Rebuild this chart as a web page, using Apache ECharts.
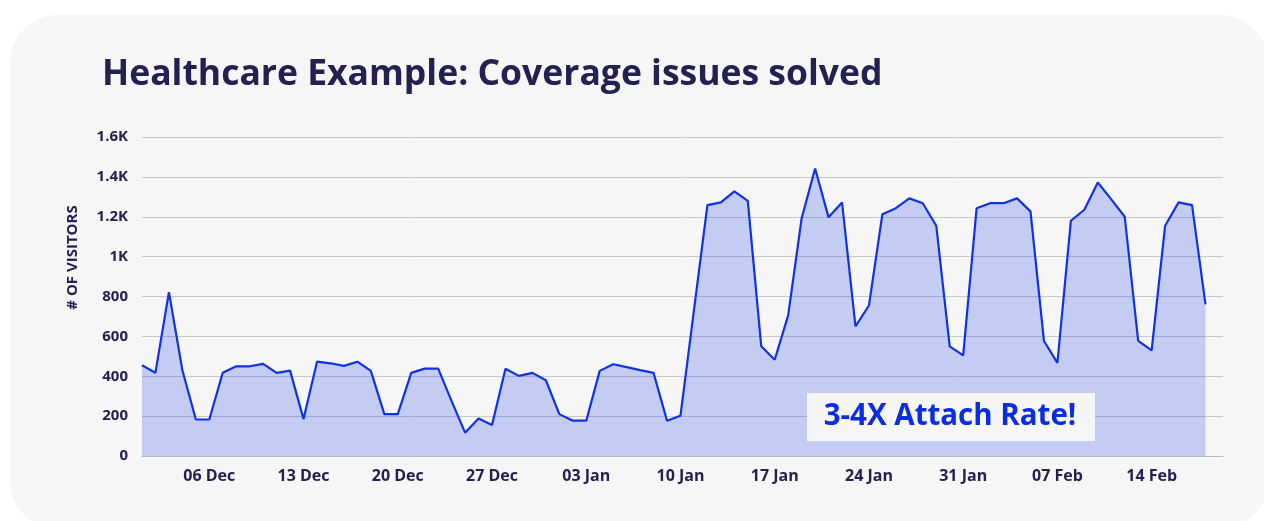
<!DOCTYPE html>
<html>
<head>
    <meta charset="utf-8">
    <title>Healthcare Example</title>
    <script src="https://cdn.jsdelivr.net/npm/echarts@6/dist/echarts.min.js"></script>
    <style>
        html, body { margin: 0; padding: 0; background: #ffffff; }
    </style>
</head>

<body>
    <div id="demo" style="width: 1264px;height:521px;"></div>
    <script type="text/javascript">
        // daily visitors, 01 Dec .. 18 Feb (day index 0..79)
        var visitors = [
            455, 418, 822, 430, 183, 183, 418, 450, 450, 462,
            417, 428, 185, 473, 465, 452, 473, 427, 210, 210,
            417, 438, 438, 275, 117, 188, 155, 438, 402, 417,
            380, 210, 177, 177, 427, 460, 446, 431, 417, 177,
            202, 730, 1258, 1272, 1327, 1280, 550, 483, 705, 1192,
            1442, 1197, 1272, 650, 755, 1213, 1243, 1292, 1268, 1155,
            550, 505, 1243, 1268, 1268, 1292, 1227, 577, 467, 1180,
            1235, 1372, 1287, 1200, 577, 530, 1155, 1272, 1258, 760
        ];
        // x tick positions (day index) and their labels
        var tickDays = [5, 12, 19, 26, 33, 40, 47, 54, 61, 68, 75];
        var tickLabels = ['06 Dec', '13 Dec', '20 Dec', '27 Dec', '03 Jan', '10 Jan',
                          '17 Jan', '24 Jan', '31 Jan', '07 Feb', '14 Feb'];
        var yTicks = [0, 200, 400, 600, 800, 1000, 1200, 1400, 1600];
        var yTickLabels = ['0', '200', '400', '600', '800', '1K', '1.2K', '1.4K', '1.6K'];

        var navy = '#23214f';
        var dom = document.getElementById('demo');
        var chart = echarts.init(dom);

        var option = {
            backgroundColor: '#ffffff',
            animation: false,
            title: {
                text: 'Healthcare Example: Coverage issues solved',
                left: 97,
                top: 52,
                textStyle: {
                    fontFamily: 'Open Sans',
                    fontSize: 35.5,
                    fontWeight: 'bold',
                    color: navy
                }
            },
            grid: {
                left: 142,
                right: 41,
                top: 137,
                bottom: 65
            },
            xAxis: {
                type: 'value',
                min: 0,
                max: 80.3,
                axisLine: { show: true, lineStyle: { color: '#b9b9c4', width: 1 } },
                axisTick: { show: false },
                splitLine: { show: false },
                axisLabel: {
                    customValues: tickDays,
                    margin: 12,
                    fontFamily: 'Open Sans',
                    fontSize: 16,
                    fontWeight: 'bold',
                    color: navy,
                    formatter: function (v) {
                        var i = tickDays.indexOf(Math.round(v));
                        return i >= 0 ? tickLabels[i] : '';
                    }
                }
            },
            yAxis: {
                type: 'value',
                min: 0,
                max: 1600,
                interval: 200,
                name: '# OF VISITORS',
                nameLocation: 'middle',
                nameRotate: 90,
                nameGap: 62,
                nameTextStyle: {
                    fontFamily: 'Open Sans',
                    fontSize: 15,
                    fontWeight: 'bold',
                    color: navy,
                    padding: [0, 0, 0, 78]
                },
                axisLine: { show: false },
                axisTick: { show: false },
                splitLine: { lineStyle: { color: '#c9c9c9', width: 1 } },
                axisLabel: {
                    margin: 14,
                    fontFamily: 'Open Sans',
                    fontSize: 15,
                    fontWeight: 'bold',
                    color: navy,
                    formatter: function (v) {
                        var i = yTicks.indexOf(v);
                        return i >= 0 ? yTickLabels[i] : '';
                    }
                }
            },
            series: [{
                type: 'line',
                data: visitors.map(function (v, i) { return [i, v]; }),
                showSymbol: false,
                lineStyle: { color: '#1032e6', width: 2.2 },
                itemStyle: { color: '#1032e6' },
                areaStyle: { color: '#1437e6', opacity: 0.22 }
            }],
            graphic: [
                {
                    type: 'rect',
                    z: -10,
                    silent: true,
                    shape: { x: 10, y: 15, width: 1258, height: 514, r: 48 },
                    style: { fill: '#f6f6f6' }
                },
                {
                    type: 'group',
                    z: 100,
                    children: [
                        {
                            type: 'rect',
                            z: 100,
                            shape: { x: 807, y: 393, width: 288, height: 48 },
                            style: { fill: '#f6f6f6' }
                        },
                        {
                            type: 'text',
                            z: 101,
                            x: 950,
                            y: 417,
                            style: {
                                text: '3-4X Attach Rate!',
                                fontFamily: 'Open Sans',
                                fontSize: 29.5,
                                fontWeight: 'bold',
                                fill: '#0a2de4',
                                align: 'center',
                                verticalAlign: 'middle'
                            }
                        }
                    ]
                }
            ]
        };

        chart.setOption(option);
    </script>
</body>
</html>
